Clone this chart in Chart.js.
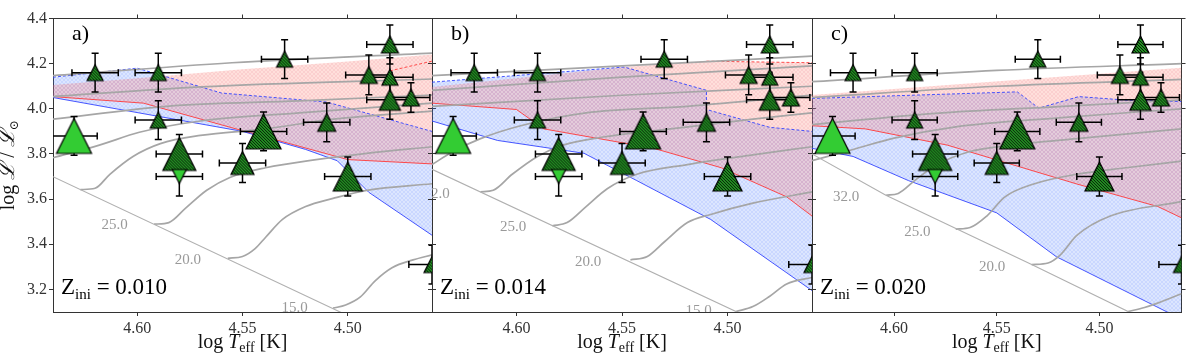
<!DOCTYPE html>
<html><head><meta charset="utf-8">
<script src="https://cdn.jsdelivr.net/npm/chart.js@4.4.0/dist/chart.umd.min.js"></script>
<style>
html,body{margin:0;padding:0;background:#fff;}
#wrap{position:relative;width:1200px;height:357px;}
canvas{position:absolute;left:0;top:0;}
</style></head><body>
<div id="wrap">
<canvas id="ca" width="1200" height="357"></canvas>
<canvas id="cb" width="1200" height="357"></canvas>
<canvas id="cc" width="1200" height="357"></canvas>
</div>
<script>
// ---------------- DATA ----------------
const xTickValues = [4.50, 4.55, 4.60];
const yTickValues = [3.2, 3.4, 3.6, 3.8, 4.0, 4.2, 4.4];
const panelLabels = ['a)', 'b)', 'c)'];
const zIniValues = ['0.010', '0.014', '0.020'];
const massLabelTexts = ['32.0', '25.0', '20.0', '15.0'];

// observed stars
const starLogT = [4.620, 4.590, 4.590, 4.630, 4.580, 4.580, 4.550, 4.540, 4.530, 4.510, 4.500, 4.480, 4.490, 4.480, 4.480, 4.470, 4.460];
const starLogL = [4.16, 4.16, 3.95, 3.88, 3.80, 3.70, 3.76, 3.90, 4.22, 3.94, 3.70, 4.285, 4.15, 4.14, 4.04, 4.05, 3.31];
const starErrT = [0.011, 0.011, 0.011, 0.011, 0.011, 0.011, 0.011, 0.011, 0.011, 0.011, 0.011, 0.011, 0.011, 0.011, 0.011, 0.009, 0.011];
const starErrL = [0.086, 0.086, 0.086, 0.086, 0.086, 0.086, 0.086, 0.086, 0.086, 0.086, 0.086, 0.086, 0.088, 0.086, 0.086, 0.065, 0.086];
const starKind = ['H','H','H','P','H','D','H','H','H','H','H','H','H','H','H','H','H'];
// marker sizes (style)
const starSize = [16, 16, 16, 35, 33, 14, 23, 35, 16, 18, 29, 17, 17, 16, 21, 17, 16];

// panel a (Z=0.010)
const blueTopA = [[4.64,4.14],[4.60,4.18],[4.56,4.07],[4.51,4.03],[4.46,3.90]];
const blueBotA = [[4.64,4.05],[4.61,4.00],[4.55,3.90],[4.52,3.82],[4.505,3.77],[4.49,3.63],[4.46,3.44]];
const pinkTopA = [[4.64,4.105],[4.60,4.135],[4.55,4.175],[4.50,4.21],[4.46,4.24]];
const redBotA = [[4.64,4.054],[4.597,4.025],[4.55,3.903],[4.50,3.775],[4.46,3.756]];
const redDashA = [[4.48,4.168],[4.46,4.211]];
const zamsA = [[4.64,3.699],[4.50,3.084],[4.49,3.04]];
const trA15 = [[4.507,3.117],[4.501,3.131],[4.494,3.167],[4.487,3.238],[4.479,3.296],[4.469,3.331],[4.46,3.353]];
const trA20 = [[4.557,3.338],[4.550,3.346],[4.544,3.381],[4.539,3.431],[4.531,3.510],[4.520,3.567],[4.507,3.603],[4.491,3.639],[4.46,3.668]];
const trA25 = [[4.592,3.489],[4.585,3.496],[4.577,3.560],[4.567,3.639],[4.556,3.696],[4.539,3.739],[4.515,3.775],[4.491,3.803],[4.46,3.832]];
const trA32 = [[4.627,3.642],[4.620,3.648],[4.613,3.710],[4.602,3.789],[4.589,3.846],[4.570,3.882],[4.539,3.911],[4.507,3.954],[4.46,3.99]];
const trA40 = [[4.64,3.783],[4.618,3.839],[4.599,3.896],[4.570,3.946],[4.523,3.982],[4.46,4.025]];
const trA50 = [[4.64,3.954],[4.586,4.011],[4.523,4.035],[4.46,4.061]];
const trA60 = [[4.64,4.054],[4.570,4.097],[4.46,4.132]];
const trA85 = [[4.64,4.147],[4.555,4.204],[4.46,4.247]];
const labPosA = [[4.655,3.64],[4.6107,3.483],[4.5759,3.331],[4.5253,3.118]];

// panel b (Z=0.014)
const blueTopB = [[4.64,4.118],[4.549,4.185],[4.51,4.082],[4.51,3.997],[4.48,3.918],[4.46,3.90]];
const blueBotB = [[4.64,3.946],[4.609,3.860],[4.568,3.803],[4.543,3.682],[4.508,3.51],[4.46,3.195]];
const pinkTopB = [[4.64,4.097],[4.549,4.185],[4.51,4.211],[4.46,4.204]];
const redBotB = [[4.64,4.025],[4.60,3.997],[4.587,3.911],[4.535,3.825],[4.503,3.739],[4.472,3.61],[4.46,3.525]];
const redDashB = [[4.51,4.211],[4.46,4.204]];
const zamsB = [[4.64,3.732],[4.496,3.102],[4.48,3.03]];
const trB15 = [[4.496,3.102],[4.488,3.124],[4.480,3.17],[4.472,3.224],[4.46,3.253]];
const trB20 = [[4.546,3.331],[4.538,3.346],[4.530,3.410],[4.519,3.496],[4.508,3.532],[4.488,3.582],[4.46,3.632]];
const trB25 = [[4.583,3.482],[4.576,3.496],[4.567,3.567],[4.557,3.646],[4.543,3.710],[4.519,3.753],[4.488,3.796],[4.46,3.832]];
const trB32 = [[4.617,3.632],[4.611,3.639],[4.602,3.710],[4.590,3.789],[4.578,3.839],[4.559,3.875],[4.527,3.911],[4.488,3.954],[4.46,3.982]];
const trB40 = [[4.64,3.753],[4.63,3.811],[4.617,3.868],[4.598,3.925],[4.567,3.982],[4.519,4.011],[4.46,4.061]];
const trB50 = [[4.64,4.011],[4.55,4.06],[4.46,4.10]];
const trB60 = [[4.64,4.082],[4.55,4.14],[4.46,4.19]];
const trB85 = [[4.64,4.147],[4.55,4.19],[4.46,4.233]];
const labPosB = [[4.6378,3.6245],[4.6016,3.474],[4.566,3.32],[4.5137,3.102]];

// panel c (Z=0.020)
const blueTopC = [[4.64,4.046],[4.54,4.075],[4.5295,4.003],[4.51,4.054],[4.4876,4.039],[4.46,4.032]];
const blueBotC = [[4.64,3.825],[4.62,3.789],[4.593,3.682],[4.55,3.539],[4.521,3.345],[4.467,3.10],[4.46,3.07]];
const pinkTopC = [[4.64,4.061],[4.46,4.182]];
const redBotC = [[4.64,3.925],[4.614,3.911],[4.574,3.839],[4.511,3.667],[4.4715,3.567],[4.46,3.517]];
const redDashC = [];
const zamsC = [[4.64,3.80],[4.604,3.617],[4.533,3.31],[4.486,3.102],[4.48,3.07]];
const trC15 = [[4.486,3.102],[4.478,3.12],[4.472,3.138],[4.46,3.181]];
const trC20 = [[4.533,3.31],[4.525,3.317],[4.519,3.353],[4.511,3.439],[4.495,3.524],[4.46,3.589]];
const trC25 = [[4.570,3.467],[4.563,3.474],[4.555,3.524],[4.546,3.61],[4.532,3.667],[4.511,3.710],[4.487,3.739],[4.46,3.768]];
const trC32 = [[4.604,3.617],[4.598,3.625],[4.590,3.682],[4.579,3.753],[4.563,3.811],[4.543,3.839],[4.511,3.868],[4.46,3.911]];
const trC40 = [[4.64,3.77],[4.62,3.82],[4.60,3.87],[4.57,3.92],[4.52,3.96],[4.46,4.00]];
const trC50 = [[4.64,3.93],[4.58,3.98],[4.52,4.01],[4.46,4.04]];
const trC60 = [[4.64,4.05],[4.55,4.10],[4.46,4.13]];
const trC85 = [[4.64,4.12],[4.55,4.17],[4.46,4.20]];
const labPosC = [[4.6234,3.61],[4.5887,3.456],[4.5522,3.30],[4.49,3.00]];

// ---------------- RENDER ----------------
const FONT = "'Liberation Serif','Times New Roman',Times,'DejaVu Serif',serif";
Chart.defaults.font.family = FONT;

const panels = [
  {id:'ca', blueTop:blueTopA, blueBot:blueBotA, pinkTop:pinkTopA, redBot:redBotA, redDash:redDashA, zams:zamsA,
   tracks:[trA15,trA20,trA25,trA32,trA40,trA50,trA60,trA85], labPos:labPosA, left:53, right:432},
  {id:'cb', blueTop:blueTopB, blueBot:blueBotB, pinkTop:pinkTopB, redBot:redBotB, redDash:redDashB, zams:zamsB,
   tracks:[trB15,trB20,trB25,trB32,trB40,trB50,trB60,trB85], labPos:labPosB, left:432, right:812},
  {id:'cc', blueTop:blueTopC, blueBot:blueBotC, pinkTop:pinkTopC, redBot:redBotC, redDash:redDashC, zams:zamsC,
   tracks:[trC15,trC20,trC25,trC32,trC40,trC50,trC60,trC85], labPos:labPosC, left:812, right:1191}
];
const TOP = 9, BOTTOM = 312, W = 1200, H = 357;

function pts(arr){ return arr.map(p => ({x:p[0], y:p[1]})); }
function poly(top, bot){ return pts(top.concat(bot.slice().reverse())); }

function hatchPattern(base, line, step){
  const c = document.createElement('canvas'); c.width = c.height = step;
  const g = c.getContext('2d');
  g.fillStyle = base; g.fillRect(0,0,step,step);
  g.strokeStyle = line; g.lineWidth = 0.6;
  g.beginPath();
  for (let k=-step; k<=step*2; k+=step){
    g.moveTo(k,0); g.lineTo(k+step,step);
    g.moveTo(k,step); g.lineTo(k+step,0);
  }
  g.stroke();
  return g.createPattern(c,'repeat');
}
const bluePat = hatchPattern('rgba(80,130,255,0.2)', 'rgba(70,110,255,0.2)', 4);
const pinkPat = hatchPattern('rgba(255,110,90,0.22)', 'rgba(220,80,110,0.18)', 4);

function triImg(size, kind){
  const pad = 2;
  const c = document.createElement('canvas');
  c.width = c.height = Math.round(size + 2*pad);
  const g = c.getContext('2d');
  const cx = c.width/2, h = size/2;
  const path = () => {
    g.beginPath();
    if (kind === 'D'){ g.moveTo(cx-h, cx-h); g.lineTo(cx+h, cx-h); g.lineTo(cx, cx+h); }
    else { g.moveTo(cx, cx-h); g.lineTo(cx+h, cx+h); g.lineTo(cx-h, cx+h); }
    g.closePath();
  };
  path();
  g.fillStyle = kind === 'H' ? '#2fc02f' : '#33cc33';
  g.fill();
  if (kind === 'H'){
    g.save(); path(); g.clip();
    g.strokeStyle = 'rgba(0,0,0,0.9)'; g.lineWidth = 1.1;
    for (let k=-c.width; k<2*c.width; k+=3){
      g.beginPath(); g.moveTo(k,0); g.lineTo(k+c.width, c.width); g.stroke();
    }
    g.restore();
  }
  path();
  g.lineJoin = 'miter'; g.strokeStyle = '#000'; g.lineWidth = 1.2; g.stroke();
  return c;
}

function drawRuns(ctx, runs, x, y, align){
  let total = 0;
  runs.forEach(r => { ctx.font = r.f; r.w = ctx.measureText(r.t).width; total += r.w; });
  let cx = align === 'center' ? x - total/2 : x;
  ctx.textAlign = 'left'; ctx.textBaseline = 'alphabetic';
  runs.forEach(r => { ctx.font = r.f; ctx.fillText(r.t, cx, y + (r.dy||0)); cx += r.w; });
}

function makeChart(pi){
  const P = panels[pi];
  const datasets = [];
  const base = {type:'line', pointRadius:0, pointHoverRadius:0, fill:false, tension:0};
  datasets.push({...base, data: poly(P.blueTop, P.blueBot), fill:'shape', backgroundColor: bluePat, borderWidth:0, borderColor:'rgba(0,0,0,0)', order: 30});
  datasets.push({...base, data: poly(P.pinkTop, P.redBot), fill:'shape', backgroundColor: pinkPat, borderWidth:0, borderColor:'rgba(0,0,0,0)', order: 29});
  datasets.push({...base, data: pts(P.blueTop), borderColor:'#3344ff', borderWidth:0.9, borderDash:[3,2], order: 28});
  datasets.push({...base, data: pts(P.blueBot), borderColor:'#3344ff', borderWidth:0.9, order: 28});
  datasets.push({...base, data: pts(P.redBot), borderColor:'#ff3a3a', borderWidth:0.9, order: 28});
  if (P.redDash.length) datasets.push({...base, data: pts(P.redDash), borderColor:'#ff3a3a', borderWidth:0.9, borderDash:[3,2], order: 28});
  datasets.push({...base, data: pts(P.zams), borderColor:'#b0b0b0', borderWidth:1.1, order: 20});
  P.tracks.forEach(t => datasets.push({...base, data: pts(t), borderColor:'#a6a6a6', borderWidth:1.7, cubicInterpolationMode:'monotone', order: 20}));

  const idxH = [], idxP = [], idxD = [];
  starKind.forEach((k,i) => (k==='H'?idxH:k==='P'?idxP:idxD).push(i));
  const starSet = (idx, ord, first) => ({
    type:'scatter', firstStars:first, order: ord,
    data: idx.map(i => ({x: starLogT[i], y: starLogL[i]})),
    pointStyle: idx.map(i => triImg(starSize[i], starKind[i])),
    pointRadius: idx.map(i => starSize[i]/2),
    pointHoverRadius: idx.map(i => starSize[i]/2),
    clip: 0
  });
  datasets.push(starSet(idxH, 3, true));
  datasets.push(starSet(idxP, 2, false));
  datasets.push(starSet(idxD, 1, false));

  const tickFont = {family: FONT, size: 16};
  const xTicksFn = s => { s.ticks = xTickValues.map(v => ({value:v})); };
  const yTicksFn = s => { s.ticks = yTickValues.map(v => ({value:v})); };
  const grid = {drawOnChartArea:false, drawTicks:true, tickLength:4, tickColor:'#333', tickWidth:1};
  const border = {display:true, color:'#333', width:1};
  const leftW = pi === 0 ? P.left : 5;
  const padLeft = pi === 0 ? 0 : P.left - 5;
  const padRight = W - P.right - 5;

  const decor = {
    id: 'decor'+pi,
    beforeDatasetDraw(chart, args){
      const ds = chart.data.datasets[args.index];
      if (!ds.firstStars) return;
      const {ctx, chartArea:a, scales:{x, y}} = chart;
      ctx.save();
      ctx.beginPath(); ctx.rect(a.left, a.top, a.right-a.left, a.bottom-a.top); ctx.clip();
      // mass labels
      ctx.fillStyle = '#999'; ctx.font = '15px ' + FONT; ctx.textAlign = 'center'; ctx.textBaseline = 'middle';
      massLabelTexts.forEach((t,i) => {
        const p = P.labPos[i];
        ctx.fillText(t, x.getPixelForValue(p[0]), y.getPixelForValue(p[1]));
      });
      // error bars
      ctx.strokeStyle = '#000'; ctx.lineWidth = 1.5; ctx.lineCap = 'butt';
      const cap = 3.5;
      starLogT.forEach((T,i) => {
        const L = starLogL[i];
        const px = x.getPixelForValue(T), py = y.getPixelForValue(L);
        const x1 = x.getPixelForValue(T + starErrT[i]), x2 = x.getPixelForValue(T - starErrT[i]);
        const y1 = y.getPixelForValue(L + starErrL[i]), y2 = y.getPixelForValue(L - starErrL[i]);
        ctx.beginPath();
        ctx.moveTo(x1, py); ctx.lineTo(x2, py);
        ctx.moveTo(px, y1); ctx.lineTo(px, y2);
        ctx.moveTo(x1, py-cap); ctx.lineTo(x1, py+cap);
        ctx.moveTo(x2, py-cap); ctx.lineTo(x2, py+cap);
        ctx.moveTo(px-cap, y1); ctx.lineTo(px+cap, y1);
        ctx.moveTo(px-cap, y2); ctx.lineTo(px+cap, y2);
        ctx.stroke();
      });
      ctx.restore();
    },
    afterDraw(chart){
      const {ctx, chartArea:a} = chart;
      ctx.save();
      ctx.fillStyle = '#000';
      drawRuns(ctx, [{t: panelLabels[pi], f: '22px ' + FONT}], a.left + 19, 40, 'left');
      drawRuns(ctx, [
        {t:'Z', f:'23px ' + FONT},
        {t:'ini', f:'15px ' + FONT, dy:5},
        {t:' = ' + zIniValues[pi], f:'23px ' + FONT}
      ], a.left + 8, 294, 'left');
      ctx.fillStyle = '#111';
      drawRuns(ctx, [
        {t:'log ', f:'20px ' + FONT},
        {t:'T', f:'italic 20px ' + FONT},
        {t:'eff', f:'14px ' + FONT, dy:4},
        {t:' [K]', f:'20px ' + FONT}
      ], (a.left + a.right)/2, 348, 'center');
      if (pi === 0){
        ctx.translate(14, (a.top + a.bottom)/2);
        ctx.rotate(-Math.PI/2);
        drawRuns(ctx, [
          {t:'log ', f:'20px ' + FONT},
          {t:'ℒ', f:'italic 21px ' + FONT},
          {t:' / ', f:'20px ' + FONT},
          {t:'ℒ', f:'italic 21px ' + FONT},
          {t:'⊙', f:'12px ' + FONT, dy:4}
        ], 0, 0, 'center');
      }
      ctx.restore();
    }
  };

  return new Chart(document.getElementById(P.id), {
    type: 'scatter',
    data: {datasets},
    options: {
      responsive:false, animation:false, events:[],
      layout:{padding:{left:padLeft, right:padRight, top:0, bottom:0}},
      plugins:{legend:{display:false}, tooltip:{enabled:false}},
      scales:{
        x:{type:'linear', position:'bottom', reverse:true, min:4.46, max:4.64,
           afterBuildTicks:xTicksFn, afterFit:s=>{s.height = H - BOTTOM;},
           ticks:{callback:v=>Number(v).toFixed(2), color:'#333', font:tickFont, padding:3, maxRotation:0, autoSkip:false},
           grid, border},
        xTop:{type:'linear', position:'top', reverse:true, min:4.46, max:4.64,
           afterBuildTicks:xTicksFn, afterFit:s=>{s.height = TOP;},
           ticks:{display:false}, grid, border},
        y:{type:'linear', position:'left', min:3.1, max:4.4,
           afterBuildTicks:yTicksFn, afterFit:s=>{s.width = leftW;},
           ticks:{display: pi===0, callback:v=>Number(v).toFixed(1), color:'#333', font:tickFont, padding:2},
           grid, border},
        yRight:{type:'linear', position:'right', min:3.1, max:4.4,
           afterBuildTicks:yTicksFn, afterFit:s=>{s.width = 5;},
           ticks:{display:false}, grid, border}
      }
    },
    plugins:[decor]
  });
}
[0,1,2].forEach(makeChart);
</script>
</body></html>
